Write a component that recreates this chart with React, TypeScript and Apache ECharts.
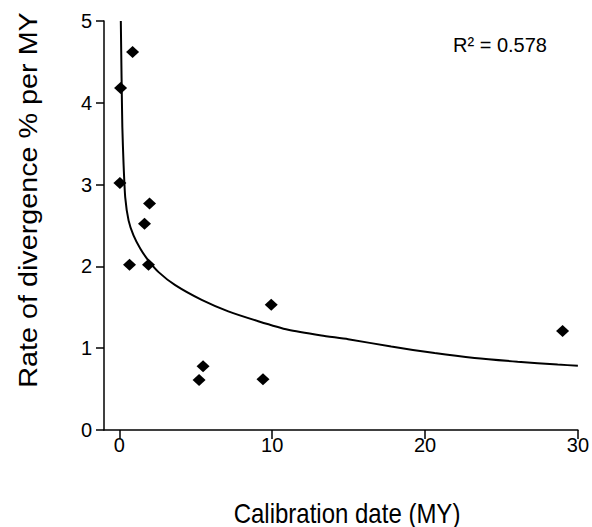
import React, { useEffect, useRef } from "react";
import * as echarts from "echarts";

const calibration = [0.87, 0.085, 0.04, 1.98, 1.65, 0.67, 1.91, 9.94, 5.48, 5.22, 9.4, 29.0];
const rate = [4.62, 4.18, 3.02, 2.77, 2.52, 2.02, 2.02, 1.53, 0.78, 0.61, 0.62, 1.21];

const curveX = [0.1, 0.15, 0.2, 0.28, 0.39, 0.61, 0.93, 1.37, 1.91, 2.57, 3.66, 5.39, 7.13, 9.09, 11.05, 13.22, 14.97, 17.79, 20.63, 23.24, 26.06, 28.68, 30];
const curveY = [5.0, 4.3, 3.7, 3.25, 2.84, 2.56, 2.38, 2.22, 2.07, 1.93, 1.77, 1.59, 1.45, 1.33, 1.225, 1.155, 1.11, 1.02, 0.94, 0.88, 0.835, 0.8, 0.786];

const xTicks = [0, 10, 20, 30];
const xTitle = "Calibration date (MY)";
const yTitle = "Rate of divergence % per MY";
const rSquared = "R² = 0.578";

const FONT = "'Liberation Sans', Arial, sans-serif";

export default function App() {
  const ref = useRef<HTMLDivElement>(null);
  useEffect(() => {
    document.body.style.margin = "0";
    if (!ref.current) return;
    const chart = echarts.init(ref.current, undefined, { renderer: "svg" });
    chart.setOption({
      animation: false,
      backgroundColor: "#fff",
      grid: { left: 104, right: 12, top: 21, bottom: 97, containLabel: false },
      xAxis: {
        type: "value",
        min: -1,
        max: 30,
        splitLine: { show: false },
        axisLine: { show: true, onZero: false, lineStyle: { color: "#000", width: 1.5 } },
        axisTick: { show: true, length: 9, customValues: xTicks, lineStyle: { color: "#000", width: 1.5 } },
        axisLabel: { customValues: xTicks, color: "#000", fontSize: 20, fontFamily: FONT, margin: 5 },
      },
      yAxis: {
        type: "value",
        min: 0,
        max: 5,
        interval: 1,
        splitLine: { show: false },
        axisLine: { show: true, onZero: false, lineStyle: { color: "#000", width: 1.5 } },
        axisTick: { show: true, length: 8, lineStyle: { color: "#000", width: 1.5 } },
        axisLabel: { color: "#000", fontSize: 20, fontFamily: FONT, margin: 12 },
      },
      series: [
        {
          type: "line",
          data: curveX.map((x, i) => [x, curveY[i]]),
          showSymbol: false,
          smooth: 0.2,
          lineStyle: { color: "#000", width: 2 },
          z: 2,
        },
        {
          type: "scatter",
          data: calibration.map((x, i) => [x, rate[i]]),
          symbol: "diamond",
          symbolSize: [13, 12],
          itemStyle: { color: "#000", opacity: 1 },
          z: 3,
        },
      ],
      graphic: [
        {
          type: "text",
          x: 347,
          y: 513,
          scaleY: 1.15,
          style: { text: xTitle, fontSize: 24, fontFamily: FONT, fill: "#000", align: "center", verticalAlign: "middle" },
        },
        {
          type: "text",
          x: 29,
          y: 200,
          rotation: Math.PI / 2,
          scaleX: 1.15,
          style: { text: yTitle, fontSize: 25, fontFamily: FONT, fill: "#000", align: "center", verticalAlign: "middle" },
        },
        {
          type: "text",
          x: 453,
          y: 45,
          style: { text: rSquared, fontSize: 20, fontFamily: FONT, fill: "#000", align: "left", verticalAlign: "middle" },
        },
      ],
    });
    return () => chart.dispose();
  }, []);
  return <div ref={ref} style={{ width: 592, height: 527 }} />;
}
